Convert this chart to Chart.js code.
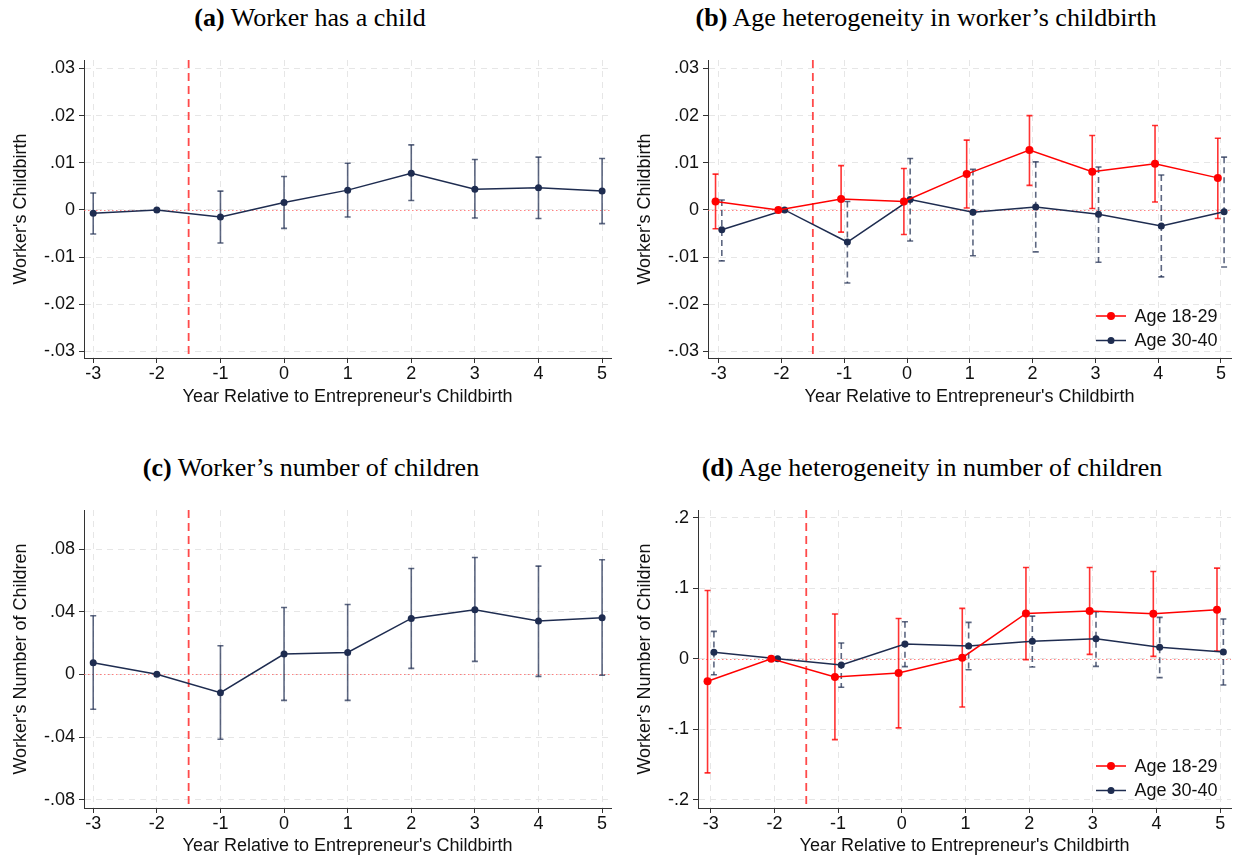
<!DOCTYPE html>
<html>
<head>
<meta charset="utf-8">
<script src="https://cdn.jsdelivr.net/npm/chart.js@4.4.0/dist/chart.umd.min.js"></script>
<style>
  body { margin: 0; background: #fff; width: 1235px; height: 859px; position: relative; overflow: hidden; }
  .panel { position: absolute; }
  .ttl { position: absolute; font-family: "Liberation Serif", "Times New Roman", serif; font-size: 26px;
         white-space: nowrap; transform: translateX(-50%); color: #000; line-height: 30px; }
</style>
</head>
<body>
<div class="ttl" style="left:310px;top:3px"><b>(a)</b> Worker has a child</div>
<div class="ttl" style="left:926px;top:3px"><b>(b)</b> Age heterogeneity in worker’s childbirth</div>
<div class="ttl" style="left:311px;top:453px"><b>(c)</b> Worker’s number of children</div>
<div class="ttl" style="left:932px;top:453px"><b>(d)</b> Age heterogeneity in number of children</div>

<div class="panel" style="left:0;top:40px"><canvas id="chartA" width="617" height="375"></canvas></div>
<div class="panel" style="left:617px;top:40px"><canvas id="chartB" width="618" height="375"></canvas></div>
<div class="panel" style="left:0;top:490px"><canvas id="chartC" width="617" height="369"></canvas></div>
<div class="panel" style="left:617px;top:490px"><canvas id="chartD" width="618" height="369"></canvas></div>

<script>
// years relative to the entrepreneur's childbirth
const years = [-3, -2, -1, 0, 1, 2, 3, 4, 5];
const yearLabels = ["-3", "-2", "-1", "0", "1", "2", "3", "4", "5"];

// (a) worker has a child
const birthAll   = [-0.0007, 0, -0.0015, 0.0016, 0.0042, 0.0078, 0.0044, 0.0047, 0.0040];
const birthAllLo = [-0.0051, null, -0.0070, -0.0039, -0.0015, 0.0020, -0.0017, -0.0018, -0.0029];
const birthAllHi = [0.0036, null, 0.0040, 0.0071, 0.0099, 0.0138, 0.0107, 0.0112, 0.0109];

// (b) childbirth by worker age
const birthYoung   = [0.0018, 0, 0.0023, 0.0018, 0.0076, 0.0127, 0.0081, 0.0098, 0.0068];
const birthYoungLo = [-0.0040, null, -0.0047, -0.0052, 0.0004, 0.0052, 0.0003, 0.0017, -0.0018];
const birthYoungHi = [0.0076, null, 0.0094, 0.0088, 0.0148, 0.0200, 0.0158, 0.0179, 0.0152];
const birthOld     = [-0.0042, 0, -0.0068, 0.0022, -0.0005, 0.0006, -0.0009, -0.0034, -0.0004];
const birthOldLo   = [-0.0108, null, -0.0155, -0.0066, -0.0097, -0.0089, -0.0111, -0.0142, -0.0121];
const birthOldHi   = [0.0021, null, 0.0018, 0.0109, 0.0086, 0.0102, 0.0091, 0.0074, 0.0112];

// (c) number of children
const kidsAll   = [0.0074, 0, -0.0117, 0.0130, 0.0140, 0.0357, 0.0412, 0.0340, 0.0361];
const kidsAllLo = [-0.0223, null, -0.0414, -0.0166, -0.0166, 0.0038, 0.0083, -0.0013, -0.0006];
const kidsAllHi = [0.0374, null, 0.0183, 0.0427, 0.0446, 0.0676, 0.0746, 0.0691, 0.0731];

// (d) number of children by worker age
const kidsYoung   = [-0.0321, 0, -0.0260, -0.0203, 0.0014, 0.0642, 0.0675, 0.0638, 0.0694];
const kidsYoungLo = [-0.1620, null, -0.1148, -0.0982, -0.0685, -0.0014, 0.0061, 0.0033, 0.0109];
const kidsYoungHi = [0.0968, null, 0.0633, 0.0571, 0.0713, 0.1294, 0.1294, 0.1237, 0.1285];
const kidsOld     = [0.0090, 0, -0.0090, 0.0208, 0.0179, 0.0246, 0.0283, 0.0161, 0.0094];
const kidsOldLo   = [-0.0227, null, -0.0406, -0.0113, -0.0156, -0.0118, -0.0109, -0.0269, -0.0373];
const kidsOldHi   = [0.0387, null, 0.0222, 0.0524, 0.0515, 0.0604, 0.0666, 0.0586, 0.0562];

// y ticks
const yTicksBirth  = [-0.03, -0.02, -0.01, 0, 0.01, 0.02, 0.03];
const yLabelsBirth = ["-.03", "-.02", "-.01", "0", ".01", ".02", ".03"];
const yTicksKids   = [-0.08, -0.04, 0, 0.04, 0.08];
const yLabelsKids  = ["-.08", "-.04", "0", ".04", ".08"];
const yTicksKidsAge  = [-0.2, -0.1, 0, 0.1, 0.2];
const yLabelsKidsAge = ["-.2", "-.1", "0", ".1", ".2"];

const seriesNames = ["Age 18-29", "Age 30-40"];

const NAVY = "#1e2c50";
const RED = "#ff0000";
const FONT = "'Liberation Sans', Arial, sans-serif";

// zero line, event line, confidence intervals, legend
const extras = {
  id: "extras",
  beforeDatasetsDraw(chart) {
    const { ctx, chartArea: a, scales: { x, y } } = chart;
    ctx.save();
    // zero line
    ctx.strokeStyle = "rgba(255,90,90,0.75)";
    ctx.lineWidth = 1;
    ctx.setLineDash([1.5, 2.5]);
    const y0 = Math.round(y.getPixelForValue(0)) + 0.5;
    ctx.beginPath(); ctx.moveTo(a.left, y0); ctx.lineTo(a.right, y0); ctx.stroke();
    // event line
    ctx.strokeStyle = "#ff4a4a";
    ctx.lineWidth = 1.8;
    ctx.setLineDash([8, 5]);
    const xe = x.getPixelForValue(-1.5);
    ctx.beginPath(); ctx.moveTo(xe, a.top); ctx.lineTo(xe, a.bottom); ctx.stroke();

    chart.data.datasets.forEach(ds => {
      ctx.strokeStyle = ds.ciColor;
      ctx.lineWidth = 1.6;
      ds.data.forEach((p, i) => {
        if (ds.ciLo[i] == null) return;
        const px = x.getPixelForValue(p.x);
        const top = y.getPixelForValue(ds.ciHi[i]);
        const bot = y.getPixelForValue(ds.ciLo[i]);
        ctx.setLineDash(ds.ciDash);
        ctx.beginPath(); ctx.moveTo(px, top); ctx.lineTo(px, bot); ctx.stroke();
        ctx.setLineDash([]);
        ctx.beginPath();
        ctx.moveTo(px - 3, top); ctx.lineTo(px + 3, top);
        ctx.moveTo(px - 3, bot); ctx.lineTo(px + 3, bot);
        ctx.stroke();
      });
    });
    ctx.restore();
  },
  afterDraw(chart, args, opts) {
    if (!opts.legend) return;
    const { ctx, chartArea: a } = chart;
    ctx.save();
    ctx.font = "18px " + FONT;
    ctx.textBaseline = "middle";
    chart.data.datasets.forEach((ds, i) => {
      const ly = a.bottom - (i === 0 ? 42 : 17.5);
      const lx = a.right - 135;
      ctx.strokeStyle = ds.borderColor;
      ctx.lineWidth = 1.5;
      ctx.beginPath(); ctx.moveTo(lx, ly); ctx.lineTo(lx + 30, ly); ctx.stroke();
      ctx.fillStyle = ds.borderColor;
      ctx.beginPath(); ctx.arc(lx + 15, ly, ds.pointRadius, 0, Math.PI * 2); ctx.fill();
      ctx.fillStyle = "#111";
      ctx.fillText(ds.label, lx + 38.5, ly + 1);
    });
    ctx.restore();
  }
};

function series(label, vals, lo, hi, shift, color, ciColor, ciDash, radius) {
  return {
    label: label,
    data: years.map((yr, i) => ({ x: yr + shift, y: vals[i] })),
    ciLo: lo, ciHi: hi, ciColor: ciColor, ciDash: ciDash,
    borderColor: color, backgroundColor: color,
    pointBackgroundColor: color, pointBorderColor: color,
    borderWidth: 1.5, pointRadius: radius, pointBorderWidth: 0,
    tension: 0, fill: false
  };
}

function makePanel(id, cfg) {
  const axisColor = "#333";
  new Chart(document.getElementById(id), {
    type: "line",
    data: { datasets: cfg.datasets },
    plugins: [extras],
    options: {
      responsive: false,
      animation: false,
      layout: { padding: { top: 20, right: cfg.padRight, left: 0, bottom: 0 } },
      plugins: {
        legend: { display: false },
        tooltip: { enabled: false },
        extras: { legend: cfg.legend }
      },
      scales: {
        x: {
          type: "linear", min: cfg.xMin, max: cfg.xMax,
          afterBuildTicks: s => { s.ticks = years.map(v => ({ value: v })); },
          afterFit: s => { s.height = cfg.xHeight; },
          grid: { color: "#e6e6e6", lineWidth: 1, tickColor: axisColor, tickLength: 5, tickWidth: 1 },
          border: { display: true, color: axisColor, width: 1, dash: [6, 5] },
          ticks: {
            color: "#111", padding: 0, maxRotation: 0, autoSkip: false,
            font: { family: FONT, size: 18 },
            callback: (v, i) => yearLabels[i]
          },
          title: {
            display: true, text: "Year Relative to Entrepreneur's Childbirth", color: "#111",
            font: { family: FONT, size: 18 }, padding: { top: 0, bottom: cfg.xTitlePad }
          }
        },
        y: {
          type: "linear", min: cfg.yMin, max: cfg.yMax,
          afterBuildTicks: s => { s.ticks = cfg.yTicks.map(v => ({ value: v })); },
          afterFit: s => { s.width = cfg.yWidth; },
          grid: { color: "#e6e6e6", lineWidth: 1, tickColor: axisColor, tickLength: 5, tickWidth: 1 },
          border: { display: true, color: axisColor, width: 1, dash: [6, 5] },
          ticks: {
            color: "#111", padding: 4, autoSkip: false,
            font: { family: FONT, size: 18 },
            callback: (v, i) => cfg.yLabels[i]
          },
          title: {
            display: true, text: cfg.yTitle, color: "#111",
            font: { family: FONT, size: 18 }, padding: { top: cfg.yTitlePad, bottom: 0 }
          }
        }
      }
    }
  });
}

const navyCI = "rgba(30,44,80,0.72)";
const redCI = "rgba(255,0,0,0.8)";

makePanel("chartA", {
  datasets: [series("All", birthAll, birthAllLo, birthAllHi, 0, NAVY, navyCI, [], 3.5)],
  xMin: -3.145, xMax: 5.14, yMin: -0.0314, yMax: 0.0318,
  yTicks: yTicksBirth, yLabels: yLabelsBirth, yTitle: "Worker's Childbirth",
  yWidth: 84, padRight: 6, xHeight: 57, xTitlePad: 7, yTitlePad: 10, legend: false
});

makePanel("chartB", {
  datasets: [
    series(seriesNames[0], birthYoung, birthYoungLo, birthYoungHi, -0.05, RED, redCI, [], 4),
    series(seriesNames[1], birthOld, birthOldLo, birthOldHi, 0.05, NAVY, navyCI, [6, 4], 3.5)
  ],
  xMin: -3.17, xMax: 5.16, yMin: -0.0314, yMax: 0.0318,
  yTicks: yTicksBirth, yLabels: yLabelsBirth, yTitle: "Worker's Childbirth",
  yWidth: 91, padRight: 2, xHeight: 57, xTitlePad: 7, yTitlePad: 17, legend: true
});

makePanel("chartC", {
  datasets: [series("All", kidsAll, kidsAllLo, kidsAllHi, 0, NAVY, navyCI, [], 3.5)],
  xMin: -3.145, xMax: 5.14, yMin: -0.0853, yMax: 0.1049,
  yTicks: yTicksKids, yLabels: yLabelsKids, yTitle: "Worker's Number of Children",
  yWidth: 84, padRight: 6, xHeight: 51, xTitlePad: 2, yTitlePad: 10, legend: false
});

makePanel("chartD", {
  datasets: [
    series(seriesNames[0], kidsYoung, kidsYoungLo, kidsYoungHi, -0.05, RED, redCI, [], 4),
    series(seriesNames[1], kidsOld, kidsOldLo, kidsOldHi, 0.05, NAVY, navyCI, [6, 4], 3.5)
  ],
  xMin: -3.2, xMax: 5.17, yMin: -0.2118, yMax: 0.2109,
  yTicks: yTicksKidsAge, yLabels: yLabelsKidsAge, yTitle: "Worker's Number of Children",
  yWidth: 81, padRight: 2, xHeight: 51, xTitlePad: 2, yTitlePad: 17, legend: true
});
</script>
</body>
</html>
